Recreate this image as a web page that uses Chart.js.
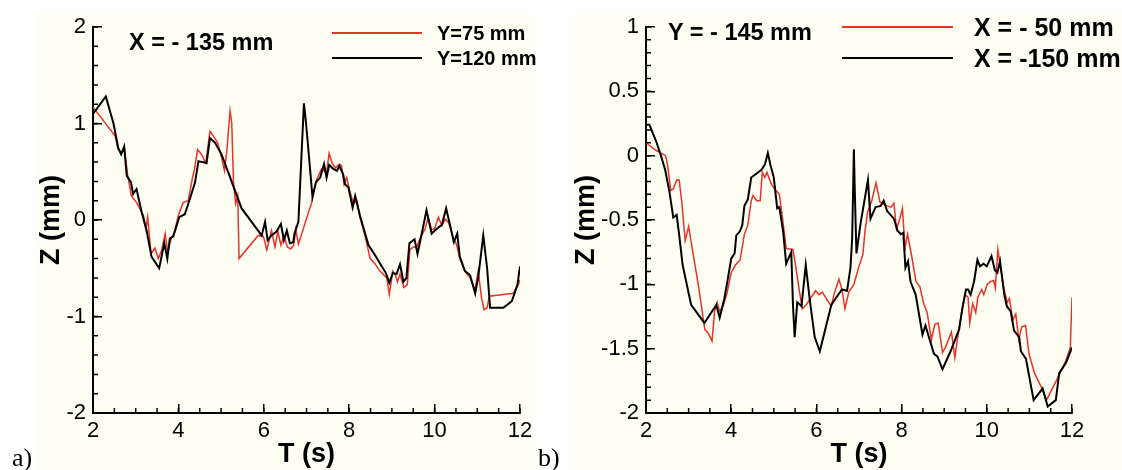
<!DOCTYPE html>
<html>
<head>
<meta charset="utf-8">
<script src="https://cdn.jsdelivr.net/npm/chart.js@4.4.0/dist/chart.umd.min.js"></script>
<style>
  body { margin: 0; width: 1122px; height: 470px; background: #fff; position: relative; overflow: hidden; font-family: "Liberation Sans", Arial, sans-serif; }
  .bg { position: absolute; background: #fffef2; }
  canvas { position: absolute; top: 0; }
  .txt { position: absolute; font-weight: bold; white-space: nowrap; line-height: 1; color: #000; }
  .key { position: absolute; height: 2px; }
  .tag { position: absolute; font-family: "Liberation Serif", "Times New Roman", serif; font-size: 26px; line-height: 1; }
</style>
</head>
<body>
<div class="bg" style="left:38px;top:14px;width:497px;height:456px"></div>
<div class="bg" style="left:573px;top:14px;width:549px;height:456px"></div>

<canvas id="chartA" width="561" height="470" style="left:0"></canvas>
<canvas id="chartB" width="561" height="470" style="left:561px"></canvas>

<!-- panel a annotations -->
<div class="txt" style="left:129px;top:31px;font-size:23.5px">X = - 135 mm</div>
<div class="key" style="left:332px;top:32px;width:90px;background:#e8332b"></div>
<div class="key" style="left:332px;top:57px;width:90px;background:#000"></div>
<div class="txt" style="left:437px;top:23px;font-size:20px">Y=75 mm</div>
<div class="txt" style="left:437px;top:48px;font-size:20px">Y=120 mm</div>
<div class="tag" style="left:12px;top:445px">a)</div>

<!-- panel b annotations -->
<div class="txt" style="left:668px;top:21px;font-size:23.5px">Y = - 145 mm</div>
<div class="key" style="left:842px;top:26px;width:111px;background:#e8332b"></div>
<div class="key" style="left:842px;top:57px;width:111px;background:#000"></div>
<div class="txt" style="left:974px;top:15px;font-size:25px">X = - 50 mm</div>
<div class="txt" style="left:974px;top:46px;font-size:25px">X = -150 mm</div>
<div class="tag" style="left:538px;top:445px">b)</div>

<script>
// T (s), Z (mm) pairs
const seriesA75 = [
  [2.00,1.17],[2.52,0.87],[2.59,0.73],[2.66,0.70],[2.74,0.73],[2.81,0.47],[2.90,0.25],[3.02,0.18],
  [3.12,0.10],[3.18,0.05],[3.24,-0.09],[3.28,0.03],[3.36,-0.35],[3.45,-0.29],[3.53,-0.40],[3.61,-0.31],
  [3.69,-0.14],[3.75,-0.33],[3.83,-0.19],[3.90,-0.14],[4.00,0.05],[4.11,0.18],[4.23,0.20],[4.33,0.44],
  [4.37,0.51],[4.45,0.73],[4.54,0.68],[4.64,0.59],[4.74,0.92],[4.82,0.87],[4.92,0.80],[5.01,0.65],
  [5.08,0.51],[5.13,0.70],[5.21,1.13],[5.25,1.00],[5.29,0.39],[5.34,0.17],[5.39,0.25],[5.42,-0.40],
  [5.87,-0.16],[5.99,-0.17],[6.07,-0.31],[6.18,-0.11],[6.26,-0.28],[6.33,-0.12],[6.40,-0.26],[6.47,-0.16],
  [6.55,-0.28],[6.63,-0.30],[6.70,-0.26],[6.75,-0.10],[6.81,-0.25],[7.12,0.18],[7.23,0.41],[7.35,0.53],
  [7.47,0.49],[7.53,0.69],[7.60,0.59],[7.68,0.54],[7.77,0.58],[7.82,0.56],[7.88,0.37],[7.94,0.44],
  [8.02,0.29],[8.10,0.17],[8.18,0.20],[8.25,0.03],[8.37,-0.16],[8.49,-0.40],[8.60,-0.45],[8.72,-0.53],
  [8.88,-0.60],[8.94,-0.77],[9.02,-0.53],[9.08,-0.57],[9.13,-0.64],[9.19,-0.56],[9.28,-0.70],[9.36,-0.67],
  [9.42,-0.31],[9.50,-0.28],[9.58,-0.28],[9.66,-0.19],[9.78,-0.09],[9.85,0.03],[9.93,-0.10],[10.00,-0.09],
  [10.09,0.03],[10.17,-0.06],[10.25,0.01],[10.33,-0.03],[10.44,-0.19],[10.51,-0.25],[10.59,-0.40],[10.71,-0.53],
  [10.83,-0.60],[10.95,-0.72],[11.02,-0.53],[11.10,-0.81],[11.16,-0.93],[11.23,-0.91],[11.28,-0.79],[11.84,-0.76],
  [11.96,-0.67],[12.00,-0.62]
];
const seriesA120 = [
  [2.00,1.10],[2.30,1.28],[2.48,1.00],[2.59,0.75],[2.66,0.68],[2.73,0.76],[2.79,0.46],[2.89,0.39],
  [2.94,0.27],[3.02,0.32],[3.14,0.08],[3.26,-0.12],[3.37,-0.38],[3.55,-0.50],[3.67,-0.24],[3.74,-0.40],
  [3.80,-0.19],[3.88,-0.17],[4.02,0.03],[4.15,0.06],[4.27,0.22],[4.39,0.39],[4.47,0.61],[4.56,0.60],
  [4.66,0.59],[4.74,0.85],[4.86,0.80],[5.01,0.68],[5.17,0.49],[5.48,0.12],[5.95,-0.16],[6.03,-0.02],
  [6.09,-0.21],[6.18,-0.16],[6.30,-0.12],[6.40,-0.04],[6.47,-0.21],[6.54,-0.11],[6.61,-0.24],[6.69,-0.23],
  [6.72,-0.14],[6.81,-0.02],[6.94,1.21],[6.99,1.00],[7.14,0.24],[7.22,0.39],[7.32,0.44],[7.41,0.58],
  [7.47,0.44],[7.53,0.57],[7.63,0.53],[7.71,0.51],[7.77,0.56],[7.86,0.47],[7.90,0.37],[7.98,0.34],
  [8.08,0.13],[8.14,0.25],[8.25,0.05],[8.45,-0.26],[8.60,-0.36],[8.76,-0.48],[8.86,-0.55],[8.94,-0.65],
  [9.02,-0.55],[9.11,-0.56],[9.19,-0.46],[9.27,-0.64],[9.34,-0.60],[9.41,-0.24],[9.50,-0.21],[9.53,-0.20],
  [9.60,-0.35],[9.69,-0.16],[9.81,0.10],[9.93,-0.14],[10.05,-0.09],[10.17,-0.05],[10.27,0.12],[10.36,-0.05],
  [10.45,-0.23],[10.53,-0.14],[10.59,-0.38],[10.71,-0.53],[10.83,-0.57],[10.95,-0.76],[11.02,-0.60],[11.14,-0.16],
  [11.23,-0.50],[11.30,-0.91],[11.61,-0.91],[11.81,-0.84],[11.94,-0.67],[12.00,-0.48]
];
const seriesB50 = [
  [2.00,0.10],[2.24,0.04],[2.46,0.00],[2.51,-0.08],[2.58,-0.27],[2.64,-0.26],[2.72,-0.19],[2.78,-0.19],
  [2.84,-0.36],[2.92,-0.66],[3.00,-0.55],[3.10,-0.75],[3.24,-1.03],[3.38,-1.35],[3.46,-1.38],[3.55,-1.44],
  [3.61,-1.21],[3.67,-1.14],[3.73,-1.21],[3.82,-1.16],[3.90,-1.07],[4.00,-0.91],[4.10,-0.85],[4.21,-0.81],
  [4.31,-0.61],[4.39,-0.54],[4.47,-0.35],[4.51,-0.31],[4.60,-0.35],[4.68,-0.35],[4.73,-0.13],[4.79,-0.17],
  [4.84,-0.13],[4.94,-0.22],[5.02,-0.26],[5.13,-0.30],[5.21,-0.50],[5.29,-0.72],[5.45,-0.73],[5.51,-0.85],
  [5.60,-1.05],[5.67,-1.19],[5.76,-1.16],[5.84,-1.12],[5.98,-1.05],[6.06,-1.08],[6.14,-1.06],[6.25,-1.12],
  [6.35,-1.17],[6.42,-1.07],[6.53,-0.96],[6.60,-1.04],[6.67,-1.19],[6.76,-1.06],[6.88,-1.00],[6.99,-0.87],
  [7.09,-0.77],[7.14,-0.59],[7.20,-0.44],[7.30,-0.35],[7.40,-0.21],[7.49,-0.36],[7.55,-0.37],[7.66,-0.39],
  [7.75,-0.40],[7.82,-0.37],[7.88,-0.57],[7.96,-0.49],[8.02,-0.41],[8.08,-0.72],[8.14,-0.61],[8.23,-0.77],
  [8.34,-0.98],[8.43,-1.02],[8.51,-1.14],[8.60,-1.22],[8.70,-1.43],[8.78,-1.31],[8.86,-1.30],[8.96,-1.53],
  [9.03,-1.49],[9.17,-1.37],[9.25,-1.57],[9.33,-1.38],[9.41,-1.22],[9.49,-1.08],[9.56,-1.10],[9.60,-1.30],
  [9.67,-1.15],[9.74,-1.22],[9.79,-1.10],[9.88,-1.04],[9.93,-1.08],[10.01,-1.00],[10.08,-0.98],[10.16,-0.97],
  [10.20,-1.03],[10.26,-0.73],[10.30,-0.82],[10.40,-1.03],[10.48,-1.14],[10.53,-1.11],[10.61,-1.28],[10.68,-1.23],
  [10.75,-1.43],[10.82,-1.33],[10.91,-1.32],[10.99,-1.54],[11.12,-1.69],[11.28,-1.80],[11.40,-1.90],[11.63,-1.75],
  [11.86,-1.59],[11.96,-1.49],[12.00,-1.10]
];
const seriesB150 = [
  [2.00,0.24],[2.08,0.24],[2.24,0.11],[2.35,0.00],[2.45,-0.11],[2.55,-0.28],[2.64,-0.48],[2.72,-0.46],
  [2.78,-0.62],[2.86,-0.85],[3.06,-1.16],[3.37,-1.30],[3.65,-1.16],[3.73,-1.26],[3.84,-1.11],[3.92,-0.96],
  [4.00,-0.80],[4.08,-0.76],[4.12,-0.62],[4.20,-0.59],[4.26,-0.54],[4.31,-0.39],[4.39,-0.34],[4.47,-0.17],
  [4.59,-0.14],[4.71,-0.11],[4.79,-0.07],[4.86,0.02],[4.92,-0.07],[5.00,-0.17],[5.08,-0.41],[5.13,-0.40],
  [5.22,-0.59],[5.29,-0.84],[5.41,-0.75],[5.45,-1.16],[5.49,-1.41],[5.55,-1.14],[5.65,-1.17],[5.75,-0.85],
  [5.84,-1.11],[5.96,-1.41],[6.08,-1.52],[6.35,-1.16],[6.45,-1.11],[6.60,-1.04],[6.72,-1.05],[6.80,-0.87],
  [6.84,-0.64],[6.88,0.05],[6.90,-0.26],[6.94,-0.76],[7.04,-0.52],[7.21,-0.19],[7.27,-0.49],[7.39,-0.40],
  [7.51,-0.39],[7.58,-0.35],[7.66,-0.43],[7.74,-0.46],[7.82,-0.49],[7.90,-0.58],[7.98,-0.61],[8.04,-0.60],
  [8.09,-0.87],[8.15,-0.82],[8.21,-0.98],[8.33,-1.08],[8.49,-1.39],[8.56,-1.32],[8.64,-1.41],[8.76,-1.54],
  [8.84,-1.56],[8.96,-1.66],[9.15,-1.52],[9.35,-1.35],[9.43,-1.18],[9.51,-1.04],[9.56,-1.04],[9.62,-1.08],
  [9.70,-0.98],[9.78,-0.81],[9.84,-0.86],[9.92,-0.84],[10.00,-0.86],[10.11,-0.78],[10.19,-0.89],[10.25,-0.91],
  [10.31,-0.82],[10.41,-1.08],[10.47,-1.17],[10.56,-1.21],[10.64,-1.36],[10.76,-1.41],[10.80,-1.52],[10.92,-1.58],
  [11.02,-1.76],[11.10,-1.90],[11.31,-1.81],[11.43,-1.95],[11.62,-1.90],[11.70,-1.69],[11.86,-1.61],[12.00,-1.49]
];

const xTicks = [2, 4, 6, 8, 10, 12];
const yTicksA = [-2, -1, 0, 1, 2];
const yTicksB = [-2, -1.5, -1, -0.5, 0, 0.5, 1];

const RED = '#e8332b';
const tickFont = { family: 'Liberation Sans', size: 22, lineHeight: 1 };
const titleFont = { family: 'Liberation Sans', size: 27, weight: 'bold', lineHeight: 1 };

// short inward ticks between the labelled ones
const minorTicks = {
  id: 'minorTicks',
  afterDraw(chart, args, opts) {
    const { ctx, chartArea, scales } = chart;
    ctx.save();
    ctx.strokeStyle = '#000';
    ctx.lineWidth = 1.5;
    ctx.beginPath();
    const xs = scales.x, ys = scales.y;
    for (let i = 0; xs.min + i * opts.xStep <= xs.max + 1e-9; i++) {
      const px = xs.getPixelForValue(xs.min + i * opts.xStep);
      ctx.moveTo(px, chartArea.bottom);
      ctx.lineTo(px, chartArea.bottom - 5);
    }
    for (let i = 0; ys.min + i * opts.yStep <= ys.max + 1e-9; i++) {
      const py = ys.getPixelForValue(ys.min + i * opts.yStep);
      ctx.moveTo(chartArea.left, py);
      ctx.lineTo(chartArea.left + 5, py);
    }
    ctx.stroke();
    ctx.restore();
  }
};

function toPoints(series) {
  return series.map(p => ({ x: p[0], y: p[1] }));
}

function makeChart(id, cfg) {
  return new Chart(document.getElementById(id), {
    type: 'line',
    data: {
      datasets: [
        { label: cfg.labels[0], data: toPoints(cfg.red), borderColor: RED, borderWidth: 1.5, order: 2 },
        { label: cfg.labels[1], data: toPoints(cfg.black), borderColor: '#000', borderWidth: 2, order: 1 },
      ],
    },
    options: {
      responsive: false,
      animation: false,
      layout: { padding: { left: 0, top: 23, right: cfg.padRight, bottom: 0 } },
      elements: { point: { radius: 0 }, line: { tension: 0, fill: false } },
      plugins: {
        legend: { display: false },
        tooltip: { enabled: false },
        minorTicks: { xStep: 0.5, yStep: cfg.yMinor },
      },
      scales: {
        x: {
          type: 'linear',
          min: 2,
          max: 12,
          afterBuildTicks: s => { s.ticks = xTicks.map(v => ({ value: v })); },
          afterFit: s => { s.height = 57; },
          ticks: { font: tickFont, color: '#000', padding: 16, maxRotation: 0, callback: v => String(v) },
          grid: { drawOnChartArea: false, drawTicks: true, tickLength: -9, color: '#000', lineWidth: 1.5 },
          border: { display: true, color: '#000', width: 2 },
          title: { display: true, text: 'T (s)', font: titleFont, color: '#000', padding: { top: 0, bottom: 1.5 } },
        },
        y: {
          min: cfg.yMin,
          max: cfg.yMax,
          afterBuildTicks: s => { s.ticks = cfg.yTicks.map(v => ({ value: v })); },
          afterFit: s => { s.width = cfg.yWidth; },
          ticks: { font: tickFont, color: '#000', padding: 16, callback: v => String(v) },
          grid: { drawOnChartArea: false, drawTicks: true, tickLength: -9, color: '#000', lineWidth: 1.5 },
          border: { display: true, color: '#000', width: 2 },
          title: { display: true, text: 'Z (mm)', font: titleFont, color: '#000', padding: { top: cfg.titlePad, bottom: 0 } },
        },
      },
    },
    plugins: [minorTicks],
  });
}

makeChart('chartA', {
  labels: ['Y=75 mm', 'Y=120 mm'],
  red: seriesA75, black: seriesA120,
  yMin: -2, yMax: 2, yTicks: yTicksA, yMinor: 0.2,
  yWidth: 93, padRight: 41, titlePad: 38.5,
});

makeChart('chartB', {
  labels: ['X = - 50 mm', 'X = -150 mm'],
  red: seriesB50, black: seriesB150,
  yMin: -2, yMax: 1, yTicks: yTicksB, yMinor: 0.1,
  yWidth: 85, padRight: 50, titlePad: 12.5,
});
</script>
</body>
</html>
